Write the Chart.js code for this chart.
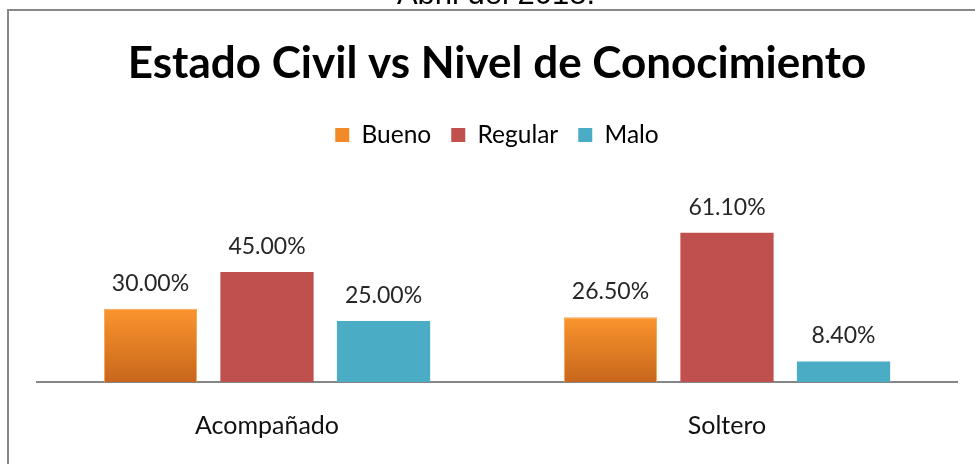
<!DOCTYPE html>
<html>
<head>
<meta charset="utf-8">
<script src="https://cdn.jsdelivr.net/npm/chart.js@4"></script>
<style>
  html, body { margin: 0; padding: 0; background: #fff; overflow: hidden; }
  canvas { position: absolute; left: 0; top: 0; }
</style>
</head>
<body>
<canvas id="chart" width="975" height="464"></canvas>
<script>
const categories = ['Acompañado', 'Soltero'];
const seriesNames = ['Bueno', 'Regular', 'Malo'];
const bueno = [30.0, 26.5];
const regular = [45.0, 61.1];
const malo = [25.0, 8.4];

// marco gris y texto cortado de arriba
const frame = {
    id: 'frame',
    beforeDraw(chart) {
        const ctx = chart.ctx;
        ctx.save();
        ctx.fillStyle = '#fff';
        ctx.fillRect(0, 0, chart.width, chart.height);
        ctx.strokeStyle = '#888888';
        ctx.lineWidth = 2;
        ctx.beginPath();
        ctx.moveTo(8, chart.height + 5);
        ctx.lineTo(8, 10);
        ctx.lineTo(chart.width + 5, 10);
        ctx.stroke();
        ctx.fillStyle = '#000';
        ctx.font = '31px "Liberation Sans", Arial, sans-serif';
        ctx.textAlign = 'center';
        ctx.textBaseline = 'alphabetic';
        ctx.fillText('Abril del 2018.', 496, 4);
        ctx.restore();
    }
};

// etiquetas de valor encima de las barras
const valueLabels = {
    id: 'valueLabels',
    afterDatasetsDraw(chart) {
        const ctx = chart.ctx;
        ctx.save();
        ctx.font = '23px Lato, sans-serif';
        ctx.fillStyle = '#262626';
        ctx.textAlign = 'center';
        ctx.textBaseline = 'alphabetic';
        chart.data.datasets.forEach((ds, i) => {
            chart.getDatasetMeta(i).data.forEach((bar, j) => {
                ctx.fillText(ds.data[j].toFixed(2) + '%', bar.x, bar.y - 18);
            });
        });
        ctx.restore();
    }
};

function orangeFill(context) {
    const chart = context.chart;
    const yScale = chart.scales.y;
    if (!chart.chartArea || !yScale || context.type !== 'data') return '#F79646';
    const top = yScale.getPixelForValue(context.raw);
    const bottom = yScale.getPixelForValue(0);
    if (!isFinite(top) || !isFinite(bottom) || top === bottom) return '#F79646';
    const g = chart.ctx.createLinearGradient(0, top, 0, bottom);
    g.addColorStop(0, '#FA952D');
    g.addColorStop(1, '#C8661C');
    return g;
}

const ctx = document.getElementById('chart').getContext('2d');
new Chart(ctx, {
    type: 'bar',
    data: {
        labels: categories,
        datasets: [
            { label: seriesNames[0], data: bueno, backgroundColor: orangeFill, borderColor: '#F7A458', borderWidth: 1 },
            { label: seriesNames[1], data: regular, backgroundColor: '#C0504D', borderWidth: 0 },
            { label: seriesNames[2], data: malo, backgroundColor: '#4BACC6', borderWidth: 0 }
        ]
    },
    options: {
        responsive: false,
        animation: false,
        layout: { padding: { left: 37, right: 18, top: 0, bottom: 25 } },
        datasets: { bar: { categoryPercentage: 0.76, barPercentage: 0.8 } },
        scales: {
            x: {
                grid: { display: false, drawTicks: false },
                border: { display: true, color: '#868686', width: 2 },
                ticks: { color: '#111', font: { family: 'Lato', size: 25 }, padding: 29 },
                afterFit(scale) { scale.height = 57; }
            },
            y: {
                display: false,
                min: 0,
                max: 92
            }
        },
        plugins: {
            title: {
                display: true,
                text: 'Estado Civil vs Nivel de Conocimiento',
                color: '#000',
                font: { family: 'Lato', size: 44, weight: 'bold' },
                padding: { top: 37, bottom: 13 }
            },
            legend: {
                display: true,
                labels: {
                    color: '#262626',
                    font: { family: 'Lato', size: 24.5 },
                    boxWidth: 14,
                    boxHeight: 14,
                    padding: 20,
                    generateLabels(chart) {
                        const cols = ['#F28A2A', '#C0504D', '#4BACC6'];
                        return chart.data.datasets.map((ds, i) => ({
                            text: ds.label,
                            fillStyle: cols[i],
                            strokeStyle: cols[i],
                            lineWidth: 0,
                            datasetIndex: i
                        }));
                    }
                }
            },
            tooltip: { enabled: false }
        }
    },
    plugins: [frame, valueLabels]
});
</script>
</body>
</html>
